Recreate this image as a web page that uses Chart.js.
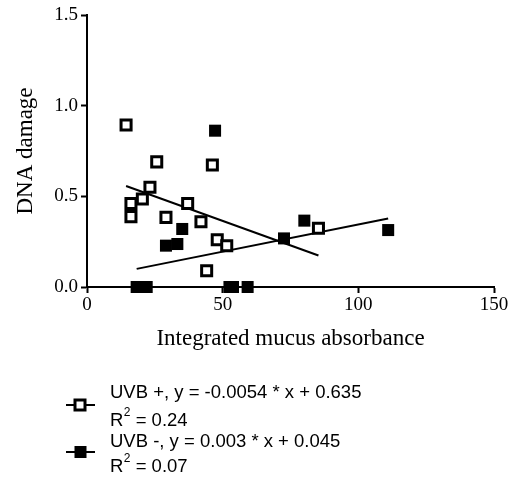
<!DOCTYPE html>
<html>
<head>
<meta charset="utf-8">
<script src="https://cdn.jsdelivr.net/npm/chart.js@4"></script>
<style>
  html, body { margin: 0; padding: 0; background: #fff; }
  #c { display: block; }
</style>
</head>
<body>
<canvas id="c" width="513" height="479"></canvas>
<script>
// ---- data ----
const uvbPlusX  = [14.4, 25.7, 46.2, 23.2, 20.4, 16.2, 16.2, 37.1, 29.1, 42.0, 48.0, 51.5, 44.1, 85.3];
const uvbPlusY  = [0.893, 0.69, 0.673, 0.55, 0.485, 0.46, 0.388, 0.46, 0.384, 0.36, 0.26, 0.228, 0.09, 0.324];
const uvbMinusX = [47.2, 35.1, 29.1, 33.3, 18.3, 20.2, 22.0, 52.5, 53.8, 59.2, 80.1, 72.6, 111.0];
const uvbMinusY = [0.862, 0.32, 0.228, 0.237, 0, 0, 0, 0, 0, 0, 0.366, 0.268, 0.314];
const plusFitX  = [14.4, 85.3];
const plusFitY  = [0.557, 0.174];
const minusFitX = [18.3, 111.0];
const minusFitY = [0.100, 0.378];
const xTicks = [0, 50, 100, 150];
const yTicks = [0, 0.5, 1.0, 1.5];
const xTitle = 'Integrated mucus absorbance';
const yTitle = 'DNA damage';
const legendEq = ['UVB +, y = -0.0054 * x + 0.635', 'UVB -, y = 0.003 * x + 0.045'];
const legendR2 = ['0.24', '0.07'];

const pts = (xs, ys) => xs.map((x, i) => ({x: x, y: ys[i]}));

const legendPlugin = {
  id: 'customLegend',
  afterDraw(chart) {
    const ctx = chart.ctx;
    ctx.save();
    const big = '18.5px "Liberation Sans", Arial, sans-serif';
    const small = '12px "Liberation Sans", Arial, sans-serif';
    ctx.fillStyle = '#000';
    ctx.textBaseline = 'middle';
    ctx.textAlign = 'left';
    const rows = [{t1: 393, t2: 421, m: 405, open: true}, {t1: 442, t2: 467, m: 452, open: false}];
    rows.forEach((r, i) => {
      ctx.font = big;
      ctx.fillText(legendEq[i], 110, r.t1);
      ctx.fillText('R', 110, r.t2);
      const wR = ctx.measureText('R').width;
      ctx.font = small;
      ctx.fillText('2', 110 + wR + 0.5, r.t2 - 8);
      const w2 = ctx.measureText('2').width;
      ctx.font = big;
      ctx.fillText(' = ' + legendR2[i], 110 + wR + w2 + 0.5, r.t2);
      ctx.strokeStyle = '#000';
      ctx.lineWidth = 2;
      ctx.beginPath();
      ctx.moveTo(66, r.m); ctx.lineTo(95, r.m);
      ctx.stroke();
      if (r.open) {
        ctx.fillStyle = '#fff';
        ctx.fillRect(75, r.m - 5, 10, 10);
        ctx.lineWidth = 3;
        ctx.strokeRect(75, r.m - 5, 10, 10);
        ctx.fillStyle = '#000';
      } else {
        ctx.fillRect(74.5, r.m - 6, 12, 12);
      }
    });
    ctx.restore();
  }
};

const serif = '"Liberation Serif", "Times New Roman", serif';

new Chart(document.getElementById('c'), {
  type: 'scatter',
  data: {
    datasets: [
      {
        label: 'UVB +',
        data: pts(uvbPlusX, uvbPlusY),
        pointStyle: 'rect',
        pointRadius: 7.1,
        pointBorderWidth: 3,
        borderColor: '#000',
        backgroundColor: '#fff',
        clip: false,
        order: 1
      },
      {
        label: 'UVB -',
        data: pts(uvbMinusX, uvbMinusY),
        pointStyle: 'rect',
        pointRadius: 8.5,
        pointBorderWidth: 0,
        borderColor: '#000',
        backgroundColor: '#000',
        clip: false,
        order: 2
      },
      {
        type: 'line',
        label: 'fit +',
        data: pts(plusFitX, plusFitY),
        showLine: true,
        pointRadius: 0,
        borderWidth: 2,
        borderColor: '#000',
        fill: false,
        clip: false,
        order: 3
      },
      {
        type: 'line',
        label: 'fit -',
        data: pts(minusFitX, minusFitY),
        showLine: true,
        pointRadius: 0,
        borderWidth: 2,
        borderColor: '#000',
        fill: false,
        clip: false,
        order: 4
      }
    ]
  },
  options: {
    responsive: false,
    animation: false,
    devicePixelRatio: 1,
    layout: { padding: { left: 0, top: 15, right: 19, bottom: 126 } },
    plugins: { legend: { display: false }, tooltip: { enabled: false } },
    scales: {
      x: {
        type: 'linear',
        min: 0, max: 150,
        afterBuildTicks(s) { s.ticks = xTicks.map(v => ({value: v})); },
        afterFit(s) { s.height = 66; },
        ticks: { color: '#000', font: { family: serif, size: 19 }, padding: 1, callback: v => String(v) },
        grid: { display: true, drawOnChartArea: false, drawTicks: true, tickLength: 6, tickWidth: 2, tickColor: '#000' },
        border: { display: true, color: '#000', width: 2 },
        title: { display: true, text: xTitle, color: '#000', font: { family: serif, size: 23 }, padding: { top: 0, bottom: 0 } }
      },
      y: {
        type: 'linear',
        min: 0, max: 1.5,
        afterBuildTicks(s) { s.ticks = yTicks.map(v => ({value: v})); },
        afterFit(s) { s.width = 87; },
        ticks: { color: '#000', font: { family: serif, size: 19 }, padding: 3, callback: v => Number(v).toFixed(1) },
        grid: { display: true, drawOnChartArea: false, drawTicks: true, tickLength: 6, tickWidth: 2, tickColor: '#000' },
        border: { display: true, color: '#000', width: 2 },
        title: { display: true, text: yTitle, color: '#000', font: { family: serif, size: 23 }, padding: { top: 12, bottom: 0 } }
      }
    }
  },
  plugins: [legendPlugin]
});
</script>
</body>
</html>
